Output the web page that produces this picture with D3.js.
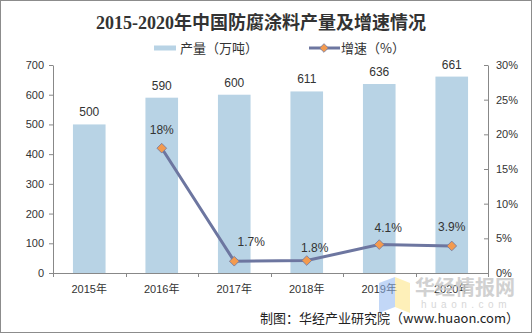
<!DOCTYPE html>
<html>
<head>
<meta charset="utf-8">
<script src="https://cdn.jsdelivr.net/npm/d3@7"></script>
<style>
  body { margin: 0; background: #fff; }
  svg { display: block; }
  .axis text { font-family: "Liberation Sans", Arial, sans-serif; font-size: 11px; fill: #333; }
  .axis path, .axis line { stroke: #888; }
</style>
</head>
<body>
<script>
// data
var years = ["2015年", "2016年", "2017年", "2018年", "2019年", "2020年"];
var output = [500, 590, 600, 611, 636, 661];        // 产量（万吨）
var growth = [null, 18, 1.7, 1.8, 4.1, 3.9];       // 增速（%）
var growthLabels = ["", "18%", "1.7%", "1.8%", "4.1%", "3.9%"];
var leftTicks = [0, 100, 200, 300, 400, 500, 600, 700];
var rightTicks = [0, 5, 10, 15, 20, 25, 30];

// label nudges for the growth line (dx, dy from the point)
var labelNudge = [[0, 0], [0, -14], [17, -15], [8, -9], [9, -13], [0, -15]];

var W = 532, H = 333;
var barColor = "#b8d3e5", lineColor = "#6d76a0", dotColor = "#f39a4e";

var svg = d3.select("body").append("svg")
  .attr("width", W)
  .attr("height", H);

// outer frame
svg.append("rect")
  .attr("x", 0.5).attr("y", 0.5)
  .attr("width", W - 1).attr("height", H - 1)
  .attr("fill", "#fff").attr("stroke", "#8c8c8c");

var x = d3.scaleBand()
  .domain(years)
  .range([53, 488])
  .paddingInner(0.55)
  .paddingOuter(0.275);

var y = d3.scaleLinear().domain([0, 700]).range([273, 65]);
var y2 = d3.scaleLinear().domain([0, 30]).range([273, 65]);

// title
svg.append("text")
  .attr("x", 261).attr("y", 29)
  .attr("text-anchor", "middle")
  .style("font-family", "'Liberation Serif', 'Noto Sans CJK SC', serif")
  .style("font-weight", "bold")
  .style("font-size", "18px")
  .attr("fill", "#333")
  .text("2015-2020年中国防腐涂料产量及增速情况");

// legend
var legend = svg.append("g")
  .style("font-family", "'Noto Sans CJK SC', sans-serif")
  .style("font-size", "13px")
  .attr("fill", "#333");
legend.append("rect")
  .attr("x", 154).attr("y", 45.5)
  .attr("width", 22).attr("height", 5)
  .attr("fill", barColor);
legend.append("text").attr("x", 180).attr("y", 53).text("产量（万吨）");
legend.append("line")
  .attr("x1", 309).attr("x2", 340).attr("y1", 48).attr("y2", 48)
  .attr("stroke", lineColor).attr("stroke-width", 3);
legend.append("path")
  .attr("d", d3.symbol(d3.symbolDiamond2, 48)())
  .attr("transform", "translate(324,48)")
  .attr("fill", dotColor).attr("stroke", lineColor).attr("stroke-width", 0.8);
legend.append("text").attr("x", 341).attr("y", 53).text("增速（%）");

// bars
svg.selectAll(".bar")
  .data(output)
  .enter().append("rect")
  .attr("class", "bar")
  .attr("x", function(d, i) { return x(years[i]); })
  .attr("y", function(d) { return y(d); })
  .attr("width", x.bandwidth())
  .attr("height", function(d) { return y(0) - y(d); })
  .attr("fill", barColor);

// bar value labels
svg.selectAll(".barLabel")
  .data(output)
  .enter().append("text")
  .attr("class", "barLabel")
  .attr("x", function(d, i) { return x(years[i]) + x.bandwidth() / 2; })
  .attr("y", function(d) { return y(d) - 8; })
  .attr("text-anchor", "middle")
  .style("font-family", "'Liberation Sans', Arial, sans-serif")
  .style("font-size", "12px")
  .attr("fill", "#333")
  .text(function(d) { return d; });

// left axis
svg.append("g")
  .attr("class", "axis")
  .attr("transform", "translate(53,0)")
  .call(d3.axisLeft(y).tickValues(leftTicks).tickSize(4).tickPadding(5).tickSizeOuter(0));

// right axis (ticks point inward)
svg.append("g")
  .attr("class", "axis")
  .attr("transform", "translate(488,0)")
  .call(d3.axisRight(y2).tickValues(rightTicks).tickSize(0).tickPadding(8).tickSizeOuter(0)
    .tickFormat(function(d) { return d + "%"; }))
  .call(function(g) {
    g.selectAll(".tick").append("line").attr("x1", -4).attr("x2", 0).attr("stroke", "#888");
  });

// bottom axis: ticks sit between the categories
var xAxis = svg.append("g").attr("class", "axis");
xAxis.append("line")
  .attr("x1", 53).attr("x2", 488).attr("y1", 273.5).attr("y2", 273.5);
var step = x.step();
xAxis.selectAll(".xt")
  .data(d3.range(years.length + 1))
  .enter().append("line")
  .attr("x1", function(i) { return Math.round(53 + i * step) + 0.5; })
  .attr("x2", function(i) { return Math.round(53 + i * step) + 0.5; })
  .attr("y1", 273).attr("y2", 277);
xAxis.selectAll(".xl")
  .data(years)
  .enter().append("text")
  .attr("x", function(d) { return x(d) + x.bandwidth() / 2; })
  .attr("y", 293)
  .attr("text-anchor", "middle")
  .style("font-family", "'Liberation Sans', 'Noto Sans CJK SC', sans-serif")
  .text(function(d) { return d; });

// growth line
var pts = growth.map(function(v, i) { return { v: v, i: i }; }).filter(function(p) { return p.v !== null; });
var line = d3.line()
  .x(function(p) { return x(years[p.i]) + x.bandwidth() / 2; })
  .y(function(p) { return y2(p.v); });

svg.append("path")
  .datum(pts)
  .attr("d", line)
  .attr("fill", "none")
  .attr("stroke", lineColor)
  .attr("stroke-width", 3);

svg.selectAll(".dot")
  .data(pts)
  .enter().append("path")
  .attr("class", "dot")
  .attr("d", d3.symbol(d3.symbolDiamond2, 60)())
  .attr("transform", function(p) {
    return "translate(" + (x(years[p.i]) + x.bandwidth() / 2) + "," + y2(p.v) + ")";
  })
  .attr("fill", dotColor)
  .attr("stroke", lineColor)
  .attr("stroke-width", 0.8);

svg.selectAll(".growthLabel")
  .data(pts)
  .enter().append("text")
  .attr("class", "growthLabel")
  .attr("x", function(p) { return x(years[p.i]) + x.bandwidth() / 2 + labelNudge[p.i][0]; })
  .attr("y", function(p) { return y2(p.v) + labelNudge[p.i][1]; })
  .attr("text-anchor", "middle")
  .style("font-family", "'Liberation Sans', Arial, sans-serif")
  .style("font-size", "12px")
  .attr("fill", "#333")
  .text(function(p) { return growthLabels[p.i]; });

// watermark
var wm = svg.append("g");
wm.append("path")
  .attr("d", "M379,283 L395,277 L395,307 L379,313 Z")
  .attr("fill", "#8fb6f0").attr("opacity", 0.55);
wm.append("path")
  .attr("d", "M395,277 L410,283 L410,313 L395,307 Z")
  .attr("fill", "#fde68a").attr("opacity", 0.6);
wm.append("text")
  .attr("x", 465).attr("y", 295)
  .attr("text-anchor", "middle")
  .style("font-family", "'Noto Sans CJK SC', sans-serif")
  .style("font-weight", "bold")
  .style("font-size", "20px")
  .attr("fill", "#c9c9c9").attr("opacity", 0.85)
  .text("华经情报网");
wm.append("text")
  .attr("x", 466).attr("y", 308)
  .attr("text-anchor", "middle")
  .style("font-family", "'Liberation Sans', Arial, sans-serif")
  .style("font-size", "10px")
  .style("letter-spacing", "4.5px")
  .attr("fill", "#d8d8d8")
  .text("huaon.com");

// source note
svg.append("text")
  .attr("x", 519).attr("y", 323)
  .attr("text-anchor", "end")
  .style("font-family", "'Noto Sans CJK SC', 'Liberation Sans', sans-serif")
  .style("font-size", "13px")
  .attr("fill", "#222")
  .text("制图：华经产业研究院（www.huaon.com）");
</script>
</body>
</html>
